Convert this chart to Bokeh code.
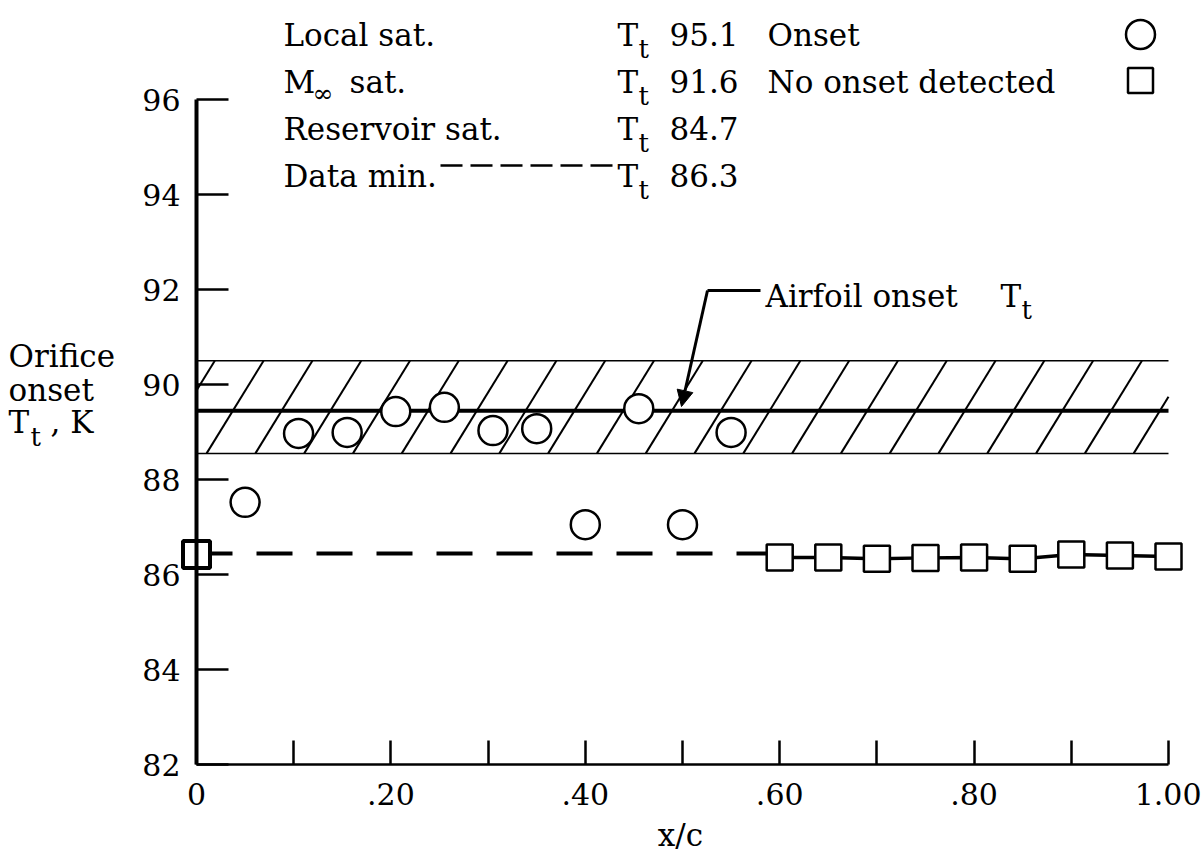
import numpy as np
from bokeh.plotting import figure
from bokeh.models import Range1d, LinearAxis, FixedTicker, Arrow, NormalHead
from bokeh.core.properties import value
from bokeh.embed import file_html
from bokeh.resources import INLINE

# ---------------- data ----------------
onset_x = [0.05, 0.105, 0.155, 0.205, 0.255, 0.305, 0.35, 0.40, 0.455, 0.50, 0.55]
onset_t = [87.52, 88.97, 88.99, 89.43, 89.52, 89.03, 89.07, 87.05, 89.49, 87.05, 88.99]
no_onset_x = [0.0, 0.60, 0.65, 0.70, 0.75, 0.80, 0.85, 0.90, 0.95, 1.00]
no_onset_t = [86.42, 86.36, 86.36, 86.33, 86.35, 86.36, 86.33, 86.42, 86.40, 86.38]
airfoil_onset_t = 89.45
band_low = 88.55
band_high = 90.5
data_min_line_t = 86.44
dashed_end_x = 0.60
x_major_ticks = [0.0, 0.2, 0.4, 0.6, 0.8, 1.0]
x_minor_ticks = [0.1, 0.3, 0.5, 0.7, 0.9]
x_tick_labels = ["0", ".20", ".40", ".60", ".80", "1.00"]
y_ticks = [82, 84, 86, 88, 90, 92, 94, 96]
legend_names = ["Local sat.", "sat.", "Reservoir sat.", "Data min."]
legend_values = ["95.1", "91.6", "84.7", "86.3"]

FONT = "DejaVu Serif"
FS = "31px"

# pixel <-> data helpers (frame fills the canvas)
X0, XS = 196.0, 972.0      # x=0 at 196 px, 972 px per unit
Y0, YS = 99.0, 47.5        # y=96 at 99 px, 47.5 px per K
def X(px):
    return (px - X0) / XS
def Y(py):
    return 96.0 - (py - Y0) / YS

W, H = 1201, 854
p = figure(width=W, height=H, x_range=Range1d(X(0), X(W)), y_range=Range1d(Y(H), Y(0)),
           output_backend="svg", toolbar_location=None,
           x_axis_type=None, y_axis_type=None, min_border=0)
p.outline_line_color = None
p.background_fill_color = "white"
p.border_fill_color = "white"

# ---------------- axes ----------------
yaxis = LinearAxis(fixed_location=0, bounds=(82, 96), ticker=FixedTicker(ticks=y_ticks),
                   axis_line_width=4, axis_line_color="black",
                   major_tick_in=32, major_tick_out=0, major_tick_line_width=2.5,
                   minor_tick_in=0, minor_tick_out=0,
                   major_label_text_font=FONT, major_label_text_font_size="30px",
                   major_label_text_color="black", major_label_standoff=16)
p.add_layout(yaxis, "left")

xaxis = LinearAxis(fixed_location=82, bounds=(0, 1),
                   ticker=FixedTicker(ticks=x_major_ticks, minor_ticks=x_minor_ticks),
                   axis_line_width=2.5, axis_line_color="black",
                   major_tick_in=24, major_tick_out=0, major_tick_line_width=2.5,
                   minor_tick_in=24, minor_tick_out=0, minor_tick_line_width=2.5,
                   minor_tick_line_color="black",
                   major_label_text_font=FONT, major_label_text_font_size="30px",
                   major_label_text_color="black", major_label_standoff=18,
                   major_label_overrides={t: l for t, l in zip(x_major_ticks, x_tick_labels)})
p.add_layout(xaxis, "below")

# ---------------- hatched band ----------------
p.segment(x0=[0, 0], y0=[band_low, band_high], x1=[1, 1], y1=[band_low, band_high],
          line_color="black", line_width=1.5)
dxh = X(196 + 57) - X(196)       # horizontal run of one hatch line
hx0, hy0, hx1, hy1 = [], [], [], []
for xb in np.arange(0.01 - 0.1, 1.0, 0.0502):
    t0 = max(0.0, (0 - xb) / dxh)
    t1 = min(1.0, (1.0 - xb) / dxh)
    if t1 <= t0:
        continue
    hx0.append(xb + dxh * t0); hy0.append(band_low + (band_high - band_low) * t0)
    hx1.append(xb + dxh * t1); hy1.append(band_low + (band_high - band_low) * t1)
p.segment(x0=hx0, y0=hy0, x1=hx1, y1=hy1, line_color="black", line_width=2)

# airfoil onset line
p.line([0, 1], [airfoil_onset_t, airfoil_onset_t], line_color="black", line_width=4)

# data-min dashed line and no-onset connecting line
p.line([0, dashed_end_x], [data_min_line_t, data_min_line_t], line_color="black",
       line_width=4, line_dash="36 24")
p.line(no_onset_x[1:], no_onset_t[1:], line_color="black", line_width=3.5)

# markers
p.scatter(onset_x, onset_t, marker="circle", size=29, fill_color="white",
          line_color="black", line_width=2.5)
p.scatter(no_onset_x[1:], no_onset_t[1:], marker="square", size=26, fill_color="white",
          line_color="black", line_width=2.5)
p.scatter(no_onset_x[:1], no_onset_t[:1], marker="square", size=27, fill_color="white",
          line_color="black", line_width=4)

# ---------------- texts ----------------
def txt(px, py, s, size=FS, align="left", baseline="alphabetic"):
    p.text(x=[X(px)], y=[Y(py)], text=[s], text_font=value(FONT),
           text_font_size=value(size), text_baseline=baseline, text_align=align,
           text_color="black")

def tsub(px, py):
    txt(px, py, "T")
    txt(px + 21, py + 14, "t", size="26px")

# legend block
col1, colT, colV = 283, 617, 669
rows = [34, 81, 128, 175]
for i, (name, val) in enumerate(zip(legend_names, legend_values)):
    py = rows[i]
    if i == 1:
        txt(col1, py, "M")
        txt(col1 + 29, py + 12, "\u221e", size="25px")
        txt(col1 + 66, py, name)
    else:
        txt(col1, py, name)
    tsub(colT, py)
    txt(colV, py, val)
# dashes of "Data min.----"
p.line([X(440), X(614)], [Y(rows[3] - 10)] * 2, line_color="black", line_width=2.5,
       line_dash="22 8")

txt(767, rows[0], "Onset")
txt(767, rows[1], "No onset detected")
p.scatter([X(1140)], [Y(34)], marker="circle", size=29, fill_color="white",
          line_color="black", line_width=2.5)
p.scatter([X(1140)], [Y(80)], marker="square", size=25, fill_color="white",
          line_color="black", line_width=2.5)

# y title
txt(8, 355, "Orifice")
txt(8, 389, "onset")
txt(8, 421, "T")
txt(30, 436, "t", size="26px")
txt(50, 421, ",  K")

# x title
txt(680, 834, "x/c", align="center", baseline="middle")

# airfoil onset annotation
txt(765, 295, "Airfoil onset")
tsub(1000, 295)
p.line([X(707), X(760)], [Y(290), Y(290)], line_color="black", line_width=3)
p.add_layout(Arrow(end=NormalHead(size=16, fill_color="black", line_color="black"),
                   x_start=X(707), y_start=Y(290), x_end=X(681), y_end=Y(406),
                   line_color="black", line_width=3))

open("out.html", "w").write(file_html(p, INLINE))
